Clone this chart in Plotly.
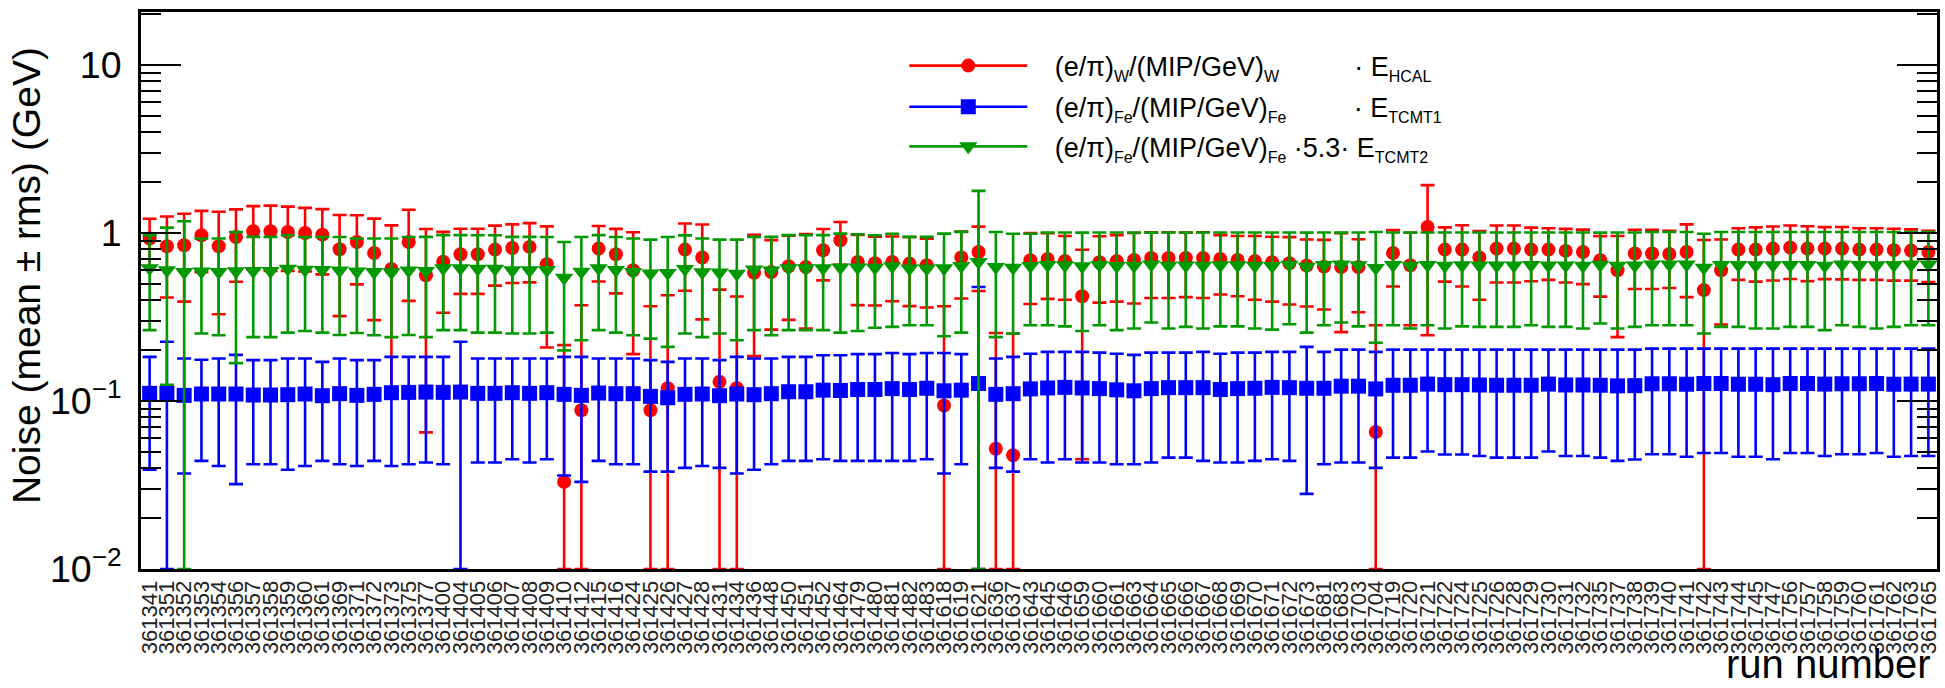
import plotly.graph_objects as go

# Run numbers on the horizontal axis (one bin per run)
run_numbers = [
    "361341", "361351", "361352", "361353", "361354", "361356", "361357", "361358",
    "361359", "361360", "361361", "361369", "361371", "361372", "361373", "361375",
    "361377", "361400", "361404", "361405", "361406", "361407", "361408", "361409",
    "361410", "361412", "361415", "361416", "361424", "361425", "361426", "361427",
    "361428", "361431", "361434", "361436", "361448", "361450", "361451", "361452",
    "361464", "361479", "361480", "361481", "361482", "361483", "361618", "361619",
    "361621", "361636", "361637", "361643", "361645", "361646", "361659", "361660",
    "361661", "361663", "361664", "361665", "361666", "361667", "361668", "361669",
    "361670", "361671", "361672", "361673", "361681", "361683", "361703", "361704",
    "361719", "361720", "361721", "361722", "361724", "361725", "361726", "361728",
    "361729", "361730", "361731", "361732", "361735", "361737", "361738", "361739",
    "361740", "361741", "361742", "361743", "361744", "361745", "361747", "361756",
    "361757", "361758", "361759", "361760", "361761", "361762", "361763", "361765",
]

# HCAL noise (W calibration): mean and rms in GeV
hcal_mean = [
    0.926, 0.833, 0.845, 0.969, 0.833, 0.947, 1.024, 1.024, 1.014, 1.0, 0.977, 0.80,
    0.884, 0.76, 0.61, 0.884, 0.56, 0.675, 0.747, 0.747, 0.796, 0.814, 0.826, 0.651,
    0.033, 0.088, 0.807, 0.747, 0.60, 0.088, 0.119, 0.796, 0.714, 0.13, 0.119, 0.58,
    0.586, 0.634, 0.627, 0.789, 0.905, 0.672, 0.66, 0.672, 0.657, 0.642, 0.094, 0.714,
    0.771, 0.052, 0.0475, 0.688, 0.70, 0.68, 0.42, 0.67, 0.68, 0.69, 0.71, 0.71,
    0.71, 0.71, 0.70, 0.69, 0.68, 0.67, 0.66, 0.64, 0.63, 0.627, 0.627, 0.0654,
    0.76, 0.642, 1.086, 0.796, 0.796, 0.714, 0.807, 0.807, 0.796, 0.796, 0.782, 0.771,
    0.688, 0.60, 0.754, 0.754, 0.75, 0.77, 0.457, 0.60, 0.796, 0.796, 0.807, 0.82,
    0.807, 0.807, 0.807, 0.796, 0.796, 0.79, 0.785, 0.771,
]
hcal_rms = [
    0.29, 0.42, 0.455, 0.385, 0.505, 0.435, 0.42, 0.43, 0.42, 0.41, 0.41, 0.48,
    0.39, 0.457, 0.50, 0.49, 0.495, 0.34, 0.313, 0.313, 0.31, 0.31, 0.318, 0.443,
    0.182, 0.283, 0.293, 0.31, 0.41, 0.278, 0.307, 0.343, 0.408, 0.33, 0.30, 0.395,
    0.32, 0.33, 0.357, 0.267, 0.258, 0.30, 0.29, 0.28, 0.29, 0.282, 0.272, 0.307,
    0.32, 0.202, 0.2045, 0.31, 0.295, 0.28, 0.375, 0.285, 0.29, 0.31, 0.30, 0.30,
    0.295, 0.30, 0.27, 0.27, 0.28, 0.28, 0.285, 0.275, 0.28, 0.37, 0.29, 0.217,
    0.28, 0.36, 0.84, 0.283, 0.316, 0.314, 0.30, 0.30, 0.28, 0.27, 0.275, 0.275,
    0.27, 0.36, 0.29, 0.29, 0.28, 0.355, 0.45, 0.315, 0.27, 0.283, 0.286, 0.288,
    0.29, 0.276, 0.278, 0.27, 0.27, 0.27, 0.265, 0.26,
]

# TCMT1 noise (Fe calibration)
tcmt1_mean = [
    0.111, 0.111, 0.108, 0.11, 0.11, 0.11, 0.1085, 0.1085, 0.109, 0.11, 0.1075, 0.1105,
    0.108, 0.1095, 0.112, 0.1125, 0.113, 0.1125, 0.113, 0.111, 0.111, 0.112, 0.111, 0.112,
    0.1095, 0.108, 0.1115, 0.1105, 0.1105, 0.1065, 0.1045, 0.1095, 0.11, 0.1075, 0.11, 0.109,
    0.1105, 0.1135, 0.1135, 0.116, 0.1155, 0.117, 0.117, 0.1185, 0.117, 0.119, 0.115, 0.116,
    0.127, 0.1095, 0.1105, 0.118, 0.1195, 0.1205, 0.1195, 0.1185, 0.1165, 0.115, 0.1185, 0.12,
    0.12, 0.12, 0.117, 0.1185, 0.119, 0.1205, 0.12, 0.119, 0.119, 0.1225, 0.1225, 0.118,
    0.124, 0.124, 0.126, 0.125, 0.125, 0.1245, 0.124, 0.124, 0.124, 0.126, 0.1245, 0.1245,
    0.124, 0.123, 0.1234, 0.1266, 0.1266, 0.1258, 0.127, 0.127, 0.1258, 0.1258, 0.125, 0.127,
    0.127, 0.126, 0.1266, 0.1266, 0.127, 0.1258, 0.126, 0.126,
]
tcmt1_rms = [
    0.072, 0.114, 0.071, 0.066, 0.069, 0.078, 0.0665, 0.0665, 0.07, 0.069, 0.0635, 0.0685,
    0.067, 0.0655, 0.071, 0.0705, 0.07, 0.0705, 0.112, 0.068, 0.068, 0.067, 0.068, 0.067,
    0.0735, 0.075, 0.0675, 0.0685, 0.0685, 0.0685, 0.0665, 0.0695, 0.069, 0.0675, 0.073, 0.07,
    0.0685, 0.0695, 0.0695, 0.071, 0.0715, 0.073, 0.073, 0.0745, 0.073, 0.074, 0.078, 0.074,
    0.35, 0.0695, 0.0725, 0.073, 0.0765, 0.0755, 0.0765, 0.0755, 0.0745, 0.073, 0.0755, 0.074,
    0.074, 0.076, 0.074, 0.0755, 0.075, 0.0755, 0.076, 0.091, 0.077, 0.0795, 0.0795, 0.078,
    0.078, 0.078, 0.076, 0.077, 0.077, 0.0775, 0.078, 0.078, 0.078, 0.076, 0.0775, 0.0775,
    0.078, 0.079, 0.0786, 0.0784, 0.0784, 0.0792, 0.078, 0.078, 0.0792, 0.0792, 0.08, 0.078,
    0.078, 0.079, 0.0784, 0.0784, 0.078, 0.0792, 0.079, 0.079,
]

# TCMT2 noise (Fe calibration, scaled by 5.3)
tcmt2_mean = [
    0.617, 0.60, 0.585, 0.589, 0.586, 0.591, 0.594, 0.594, 0.612, 0.604, 0.601, 0.597,
    0.59, 0.586, 0.583, 0.597, 0.594, 0.617, 0.617, 0.612, 0.612, 0.60, 0.60, 0.601,
    0.542, 0.588, 0.617, 0.601, 0.586, 0.574, 0.578, 0.61, 0.583, 0.582, 0.571, 0.606,
    0.597, 0.617, 0.617, 0.617, 0.623, 0.622, 0.621, 0.633, 0.615, 0.615, 0.617, 0.635,
    0.672, 0.627, 0.621, 0.636, 0.644, 0.642, 0.633, 0.644, 0.635, 0.638, 0.649, 0.638,
    0.641, 0.638, 0.642, 0.642, 0.638, 0.636, 0.646, 0.63, 0.644, 0.649, 0.642, 0.618,
    0.644, 0.638, 0.644, 0.638, 0.642, 0.641, 0.641, 0.641, 0.644, 0.641, 0.641, 0.638,
    0.647, 0.638, 0.641, 0.648, 0.648, 0.648, 0.621, 0.645, 0.645, 0.642, 0.642, 0.645,
    0.645, 0.639, 0.648, 0.645, 0.642, 0.645, 0.648, 0.648,
]
tcmt2_rms = [
    0.353, 0.475, 0.59, 0.337, 0.34, 0.423, 0.354, 0.354, 0.357, 0.343, 0.346, 0.35,
    0.336, 0.34, 0.343, 0.35, 0.354, 0.353, 0.353, 0.357, 0.357, 0.348, 0.348, 0.346,
    0.342, 0.358, 0.353, 0.346, 0.34, 0.339, 0.368, 0.358, 0.343, 0.33, 0.341, 0.342,
    0.351, 0.353, 0.353, 0.353, 0.368, 0.361, 0.348, 0.357, 0.333, 0.333, 0.374, 0.38,
    1.108, 0.387, 0.369, 0.354, 0.362, 0.364, 0.372, 0.362, 0.371, 0.368, 0.356, 0.368,
    0.365, 0.368, 0.364, 0.364, 0.368, 0.37, 0.36, 0.375, 0.362, 0.356, 0.364, 0.396,
    0.362, 0.368, 0.362, 0.368, 0.364, 0.365, 0.365, 0.365, 0.362, 0.365, 0.365, 0.368,
    0.358, 0.368, 0.365, 0.366, 0.366, 0.366, 0.369, 0.369, 0.369, 0.372, 0.372, 0.369,
    0.369, 0.375, 0.366, 0.369, 0.372, 0.369, 0.366, 0.366,
]

NB = "\u00a0"


def sub(s):
    return "<sub><span style='font-size:16px'>" + s + "</span></sub>"


legend_text = [
    NB * 3 + "(e/π)" + sub("W") + "/(MIP/GeV)" + sub("W") + NB * 10 + "· E" + sub("HCAL"),
    NB * 3 + "(e/π)" + sub("Fe") + "/(MIP/GeV)" + sub("Fe") + NB * 9 + "· E" + sub("TCMT1"),
    NB * 3 + "(e/π)" + sub("Fe") + "/(MIP/GeV)" + sub("Fe") + " ·5.3· E" + sub("TCMT2"),
]

Y_LOG_MIN, Y_LOG_MAX = -2, 1.315
y_floor = 10 ** Y_LOG_MIN
FONT = "Liberation Sans, Arial, Helvetica, sans-serif"

RED, BLUE, GREEN = "#ff0000", "#0000ff", "#009900"


def lower_errors(mean, rms):
    # bars reaching below the axis floor end on the frame, like ROOT does
    return [min(r, m - y_floor) for m, r in zip(mean, rms)]


def series(mean, rms, color, symbol, size):
    return go.Scatter(
        x=run_numbers, y=mean, mode="markers",
        marker=dict(color=color, symbol=symbol, size=size, line=dict(width=0)),
        error_y=dict(type="data", symmetric=False, array=rms,
                     arrayminus=lower_errors(mean, rms),
                     color=color, thickness=2.6, width=7),
        showlegend=False, hoverinfo="skip",
    )


def legend_entry(name, color, symbol, size, legend_id):
    return go.Scatter(
        x=[None], y=[None], mode="lines+markers", name=name,
        line=dict(color=color, width=2.6),
        marker=dict(color=color, symbol=symbol, size=size),
        legend=legend_id,
    )


fig = go.Figure()
fig.add_trace(series(hcal_mean, hcal_rms, RED, "circle", 14))
fig.add_trace(series(tcmt1_mean, tcmt1_rms, BLUE, "square", 15))
fig.add_trace(series(tcmt2_mean, tcmt2_rms, GREEN, "triangle-down", 16))

fig.add_trace(legend_entry(legend_text[0], RED, "circle", 14, "legend"))
fig.add_trace(legend_entry(legend_text[1], BLUE, "square", 15, "legend2"))
fig.add_trace(legend_entry(legend_text[2], GREEN, "triangle-down", 16, "legend3"))

leg_common = dict(xanchor="left", yanchor="middle", bgcolor="rgba(0,0,0,0)",
                  borderwidth=0, itemwidth=118, font=dict(size=27, family=FONT, color="black"))

fig.update_layout(
    width=1945, height=688,
    margin=dict(l=141, r=4, t=12, b=119),
    paper_bgcolor="white", plot_bgcolor="white",
    font=dict(family=FONT, color="black"),
    xaxis=dict(
        type="category", range=[-0.5, len(run_numbers) - 0.5],
        tickmode="array", tickvals=run_numbers, ticktext=run_numbers,
        tickangle=-90, tickfont=dict(size=22, family=FONT, color="#222"),
        showline=True, linewidth=3, linecolor="black", mirror=True,
        ticks="", showgrid=False, zeroline=False,
    ),
    yaxis=dict(
        type="log", range=[Y_LOG_MIN, Y_LOG_MAX], dtick=1, exponentformat="power",
        ticks="inside", ticklen=40, tickwidth=2, tickcolor="black",
        showline=True, linewidth=3, linecolor="black", mirror="ticks",
        showgrid=False, zeroline=False, tickfont=dict(size=30, family=FONT),
        ticksuffix=NB,
        minor=dict(ticks="inside", ticklen=20, tickwidth=2, tickcolor="black",
                   dtick="D1", showgrid=False),
    ),
    legend=dict(x=0.425, y=0.903, **leg_common),
    legend2=dict(x=0.425, y=0.829, **leg_common),
    legend3=dict(x=0.425, y=0.758, **leg_common),
    annotations=[
        dict(text="Noise (mean ± rms) (GeV)", textangle=-90, xref="paper", yref="paper",
             x=-0.064, y=0.526, xanchor="center", yanchor="middle", showarrow=False,
             font=dict(size=39, family=FONT)),
        dict(text="run number", xref="paper", yref="paper", x=0.998, y=-0.127,
             xanchor="right", yanchor="top", showarrow=False,
             font=dict(size=40, family=FONT)),
    ],
)

fig.write_html("out.html")
